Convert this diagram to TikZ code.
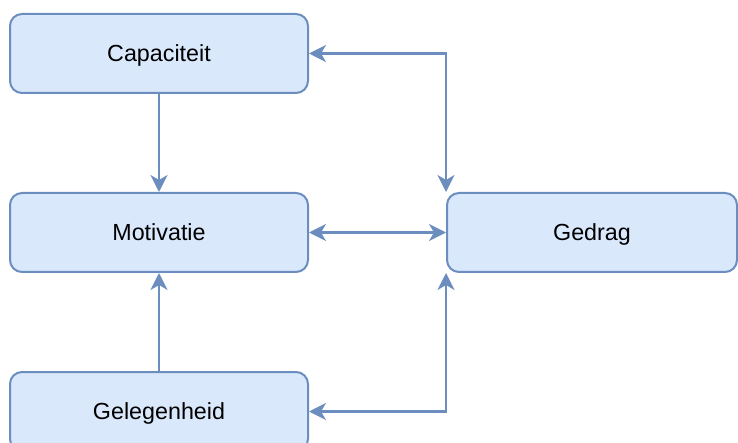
\documentclass[tikz,border=0pt]{standalone}
\usepackage{fontspec}
\setmainfont{Liberation Sans}
\usetikzlibrary{arrows.meta}
\definecolor{boxfill}{HTML}{DAE8FC}
\definecolor{boxline}{HTML}{6C8EBF}
\tikzset{
  box/.style={draw=boxline, fill=boxfill, line width=2pt, rounded corners=12pt,
    minimum height=79pt, inner sep=0pt, text height=16.7pt, text depth=0pt,
    font=\fontsize{23.3}{28}\selectfont},
  tip/.style={Stealth[length=17pt,width=17pt,inset=5pt]},
  conn/.style={draw=boxline, line width=2.2pt, {Stealth[length=17pt,width=17pt,inset=5pt]}-{Stealth[length=17pt,width=17pt,inset=5pt]}},
  conn1/.style={draw=boxline, line width=2.2pt, -{Stealth[length=17pt,width=17pt,inset=5pt]}}
}
\begin{document}
\begin{tikzpicture}[x=1pt,y=-1pt]
\useasboundingbox (0,0) rectangle (738,443);
\node[box, minimum width=298pt] (cap) at (159,53.5) {Capaciteit};
\node[box, minimum width=298pt] (mot) at (159,232.5) {Motivatie};
\node[box, minimum width=298pt] (gel) at (159,411.5) {Gelegenheid};
\node[box, minimum width=290pt] (ged) at (592,232.5) {Gedrag};
\draw[conn1] (cap.south) -- (mot.north);
\draw[conn1] (gel.north) -- (mot.south);
\draw[conn] (mot.east) -- (ged.west);
\draw[conn] (cap.east) -| (ged.north west);
\draw[conn] (gel.east) -| (ged.south west);
\end{tikzpicture}
\end{document}
